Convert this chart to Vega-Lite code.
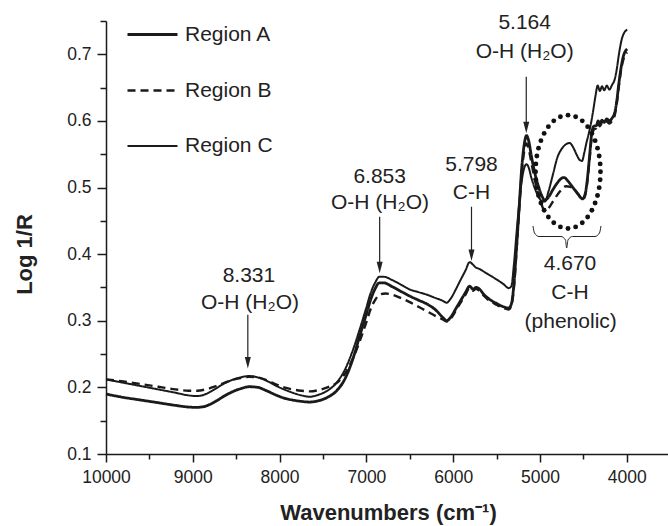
{
  "$schema": "https://vega.github.io/schema/vega-lite/v6.json",
  "width": 562,
  "height": 433,
  "autosize": {"type": "none"},
  "padding": {"left": 106, "top": 21, "right": 0, "bottom": 72},
  "background": "white",
  "config": {
    "view": {"stroke": null},
    "font": "Liberation Sans",
    "axis": {
      "grid": false,
      "domainColor": "#1a1a1a",
      "domainWidth": 1.5,
      "tickColor": "#1a1a1a",
      "tickWidth": 1.5,
      "tickSize": 8,
      "labelFont": "Liberation Sans",
      "labelFontSize": 17.5,
      "labelColor": "#222222",
      "labelPadding": 6,
      "labelFlush": false,
      "labelOverlap": false,
      "titleFont": "Liberation Sans",
      "titleFontSize": 22,
      "titleFontWeight": "bold",
      "titleColor": "#222222"
    },
    "legend": {
      "orient": "none",
      "legendX": 20,
      "legendY": -13,
      "padding": 0,
      "symbolType": "stroke",
      "symbolSize": 2500,
      "symbolStrokeColor": "#1a1a1a",
      "labelFont": "Liberation Sans",
      "labelFontSize": 21,
      "labelColor": "#222222",
      "labelOffset": 6,
      "rowPadding": 19
    }
  },
  "datasets": {
    "spectra": [
      {"region":"Region A","wn":10000,"v":0.190},{"region":"Region A","wn":9800,"v":0.185},{"region":"Region A","wn":9600,"v":0.181},{"region":"Region A","wn":9400,"v":0.177},{"region":"Region A","wn":9200,"v":0.173},{"region":"Region A","wn":9050,"v":0.1705},{"region":"Region A","wn":8950,"v":0.170},{"region":"Region A","wn":8850,"v":0.172},{"region":"Region A","wn":8750,"v":0.178},{"region":"Region A","wn":8650,"v":0.186},{"region":"Region A","wn":8550,"v":0.193},{"region":"Region A","wn":8450,"v":0.198},{"region":"Region A","wn":8350,"v":0.201},{"region":"Region A","wn":8250,"v":0.200},{"region":"Region A","wn":8150,"v":0.195},{"region":"Region A","wn":8050,"v":0.189},{"region":"Region A","wn":7950,"v":0.184},{"region":"Region A","wn":7850,"v":0.181},{"region":"Region A","wn":7750,"v":0.179},{"region":"Region A","wn":7650,"v":0.178},{"region":"Region A","wn":7550,"v":0.180},{"region":"Region A","wn":7450,"v":0.185},{"region":"Region A","wn":7350,"v":0.194},{"region":"Region A","wn":7250,"v":0.212},{"region":"Region A","wn":7150,"v":0.245},{"region":"Region A","wn":7075,"v":0.278},{"region":"Region A","wn":7000,"v":0.310},{"region":"Region A","wn":6950,"v":0.332},{"region":"Region A","wn":6900,"v":0.348},{"region":"Region A","wn":6850,"v":0.357},{"region":"Region A","wn":6800,"v":0.357},{"region":"Region A","wn":6700,"v":0.351},{"region":"Region A","wn":6600,"v":0.344},{"region":"Region A","wn":6500,"v":0.337},{"region":"Region A","wn":6400,"v":0.331},{"region":"Region A","wn":6300,"v":0.325},{"region":"Region A","wn":6200,"v":0.316},{"region":"Region A","wn":6120,"v":0.305},{"region":"Region A","wn":6075,"v":0.300},{"region":"Region A","wn":6030,"v":0.305},{"region":"Region A","wn":5970,"v":0.318},{"region":"Region A","wn":5920,"v":0.329},{"region":"Region A","wn":5860,"v":0.342},{"region":"Region A","wn":5810,"v":0.352},{"region":"Region A","wn":5770,"v":0.347},{"region":"Region A","wn":5740,"v":0.350},{"region":"Region A","wn":5700,"v":0.348},{"region":"Region A","wn":5650,"v":0.340},{"region":"Region A","wn":5600,"v":0.334},{"region":"Region A","wn":5500,"v":0.326},{"region":"Region A","wn":5420,"v":0.321},{"region":"Region A","wn":5360,"v":0.319},{"region":"Region A","wn":5330,"v":0.325},{"region":"Region A","wn":5300,"v":0.355},{"region":"Region A","wn":5270,"v":0.410},{"region":"Region A","wn":5240,"v":0.470},{"region":"Region A","wn":5210,"v":0.530},{"region":"Region A","wn":5180,"v":0.566},{"region":"Region A","wn":5155,"v":0.578},{"region":"Region A","wn":5130,"v":0.570},{"region":"Region A","wn":5100,"v":0.548},{"region":"Region A","wn":5060,"v":0.522},{"region":"Region A","wn":5020,"v":0.503},{"region":"Region A","wn":4980,"v":0.488},{"region":"Region A","wn":4945,"v":0.481},{"region":"Region A","wn":4900,"v":0.486},{"region":"Region A","wn":4850,"v":0.497},{"region":"Region A","wn":4800,"v":0.507},{"region":"Region A","wn":4750,"v":0.514},{"region":"Region A","wn":4720,"v":0.515},{"region":"Region A","wn":4680,"v":0.510},{"region":"Region A","wn":4620,"v":0.500},{"region":"Region A","wn":4560,"v":0.490},{"region":"Region A","wn":4510,"v":0.483},{"region":"Region A","wn":4480,"v":0.490},{"region":"Region A","wn":4460,"v":0.506},{"region":"Region A","wn":4430,"v":0.545},{"region":"Region A","wn":4405,"v":0.580},{"region":"Region A","wn":4380,"v":0.592},{"region":"Region A","wn":4350,"v":0.593},{"region":"Region A","wn":4330,"v":0.600},{"region":"Region A","wn":4310,"v":0.596},{"region":"Region A","wn":4285,"v":0.601},{"region":"Region A","wn":4260,"v":0.598},{"region":"Region A","wn":4230,"v":0.603},{"region":"Region A","wn":4200,"v":0.600},{"region":"Region A","wn":4170,"v":0.604},{"region":"Region A","wn":4140,"v":0.612},{"region":"Region A","wn":4115,"v":0.630},{"region":"Region A","wn":4095,"v":0.652},{"region":"Region A","wn":4075,"v":0.672},{"region":"Region A","wn":4055,"v":0.688},{"region":"Region A","wn":4035,"v":0.699},{"region":"Region A","wn":4015,"v":0.705},{"region":"Region A","wn":3995,"v":0.708},
      {"region":"Region B","wn":10000,"v":0.212},{"region":"Region B","wn":9800,"v":0.209},{"region":"Region B","wn":9600,"v":0.205},{"region":"Region B","wn":9400,"v":0.201},{"region":"Region B","wn":9200,"v":0.197},{"region":"Region B","wn":9050,"v":0.195},{"region":"Region B","wn":8950,"v":0.195},{"region":"Region B","wn":8850,"v":0.197},{"region":"Region B","wn":8750,"v":0.201},{"region":"Region B","wn":8650,"v":0.206},{"region":"Region B","wn":8550,"v":0.211},{"region":"Region B","wn":8450,"v":0.214},{"region":"Region B","wn":8350,"v":0.216},{"region":"Region B","wn":8250,"v":0.215},{"region":"Region B","wn":8150,"v":0.211},{"region":"Region B","wn":8050,"v":0.205},{"region":"Region B","wn":7950,"v":0.200},{"region":"Region B","wn":7850,"v":0.197},{"region":"Region B","wn":7750,"v":0.195},{"region":"Region B","wn":7650,"v":0.194},{"region":"Region B","wn":7550,"v":0.196},{"region":"Region B","wn":7450,"v":0.200},{"region":"Region B","wn":7350,"v":0.206},{"region":"Region B","wn":7250,"v":0.220},{"region":"Region B","wn":7150,"v":0.245},{"region":"Region B","wn":7075,"v":0.270},{"region":"Region B","wn":7000,"v":0.298},{"region":"Region B","wn":6950,"v":0.318},{"region":"Region B","wn":6900,"v":0.331},{"region":"Region B","wn":6850,"v":0.339},{"region":"Region B","wn":6780,"v":0.341},{"region":"Region B","wn":6700,"v":0.339},{"region":"Region B","wn":6600,"v":0.334},{"region":"Region B","wn":6500,"v":0.328},{"region":"Region B","wn":6400,"v":0.321},{"region":"Region B","wn":6300,"v":0.314},{"region":"Region B","wn":6200,"v":0.307},{"region":"Region B","wn":6120,"v":0.302},{"region":"Region B","wn":6075,"v":0.299},{"region":"Region B","wn":6030,"v":0.303},{"region":"Region B","wn":5970,"v":0.315},{"region":"Region B","wn":5920,"v":0.326},{"region":"Region B","wn":5860,"v":0.339},{"region":"Region B","wn":5810,"v":0.349},{"region":"Region B","wn":5770,"v":0.345},{"region":"Region B","wn":5740,"v":0.348},{"region":"Region B","wn":5700,"v":0.345},{"region":"Region B","wn":5650,"v":0.338},{"region":"Region B","wn":5600,"v":0.332},{"region":"Region B","wn":5500,"v":0.324},{"region":"Region B","wn":5420,"v":0.319},{"region":"Region B","wn":5360,"v":0.317},{"region":"Region B","wn":5330,"v":0.322},{"region":"Region B","wn":5300,"v":0.350},{"region":"Region B","wn":5270,"v":0.405},{"region":"Region B","wn":5240,"v":0.465},{"region":"Region B","wn":5210,"v":0.522},{"region":"Region B","wn":5180,"v":0.556},{"region":"Region B","wn":5155,"v":0.566},{"region":"Region B","wn":5130,"v":0.558},{"region":"Region B","wn":5100,"v":0.538},{"region":"Region B","wn":5060,"v":0.512},{"region":"Region B","wn":5020,"v":0.490},{"region":"Region B","wn":4980,"v":0.474},{"region":"Region B","wn":4950,"v":0.466},{"region":"Region B","wn":4910,"v":0.468},{"region":"Region B","wn":4860,"v":0.477},{"region":"Region B","wn":4800,"v":0.489},{"region":"Region B","wn":4750,"v":0.497},{"region":"Region B","wn":4700,"v":0.502},{"region":"Region B","wn":4650,"v":0.501},{"region":"Region B","wn":4600,"v":0.497},{"region":"Region B","wn":4560,"v":0.490},{"region":"Region B","wn":4510,"v":0.482},{"region":"Region B","wn":4480,"v":0.488},{"region":"Region B","wn":4460,"v":0.503},{"region":"Region B","wn":4430,"v":0.540},{"region":"Region B","wn":4405,"v":0.574},{"region":"Region B","wn":4380,"v":0.587},{"region":"Region B","wn":4350,"v":0.589},{"region":"Region B","wn":4330,"v":0.596},{"region":"Region B","wn":4310,"v":0.592},{"region":"Region B","wn":4285,"v":0.597},{"region":"Region B","wn":4260,"v":0.594},{"region":"Region B","wn":4230,"v":0.599},{"region":"Region B","wn":4200,"v":0.596},{"region":"Region B","wn":4170,"v":0.600},{"region":"Region B","wn":4140,"v":0.608},{"region":"Region B","wn":4115,"v":0.626},{"region":"Region B","wn":4095,"v":0.648},{"region":"Region B","wn":4075,"v":0.668},{"region":"Region B","wn":4055,"v":0.684},{"region":"Region B","wn":4035,"v":0.694},{"region":"Region B","wn":4015,"v":0.700},{"region":"Region B","wn":3995,"v":0.703},
      {"region":"Region C","wn":10000,"v":0.212},{"region":"Region C","wn":9800,"v":0.207},{"region":"Region C","wn":9600,"v":0.202},{"region":"Region C","wn":9400,"v":0.197},{"region":"Region C","wn":9200,"v":0.192},{"region":"Region C","wn":9050,"v":0.188},{"region":"Region C","wn":8950,"v":0.187},{"region":"Region C","wn":8850,"v":0.190},{"region":"Region C","wn":8750,"v":0.197},{"region":"Region C","wn":8650,"v":0.205},{"region":"Region C","wn":8550,"v":0.211},{"region":"Region C","wn":8450,"v":0.215},{"region":"Region C","wn":8350,"v":0.217},{"region":"Region C","wn":8250,"v":0.215},{"region":"Region C","wn":8150,"v":0.210},{"region":"Region C","wn":8050,"v":0.203},{"region":"Region C","wn":7950,"v":0.197},{"region":"Region C","wn":7850,"v":0.192},{"region":"Region C","wn":7750,"v":0.188},{"region":"Region C","wn":7650,"v":0.186},{"region":"Region C","wn":7550,"v":0.189},{"region":"Region C","wn":7450,"v":0.195},{"region":"Region C","wn":7350,"v":0.206},{"region":"Region C","wn":7250,"v":0.226},{"region":"Region C","wn":7150,"v":0.258},{"region":"Region C","wn":7075,"v":0.288},{"region":"Region C","wn":7000,"v":0.320},{"region":"Region C","wn":6950,"v":0.342},{"region":"Region C","wn":6900,"v":0.357},{"region":"Region C","wn":6850,"v":0.366},{"region":"Region C","wn":6800,"v":0.366},{"region":"Region C","wn":6700,"v":0.361},{"region":"Region C","wn":6600,"v":0.354},{"region":"Region C","wn":6500,"v":0.347},{"region":"Region C","wn":6400,"v":0.343},{"region":"Region C","wn":6300,"v":0.339},{"region":"Region C","wn":6200,"v":0.334},{"region":"Region C","wn":6120,"v":0.330},{"region":"Region C","wn":6075,"v":0.327},{"region":"Region C","wn":6030,"v":0.333},{"region":"Region C","wn":5970,"v":0.347},{"region":"Region C","wn":5920,"v":0.360},{"region":"Region C","wn":5860,"v":0.375},{"region":"Region C","wn":5810,"v":0.388},{"region":"Region C","wn":5770,"v":0.384},{"region":"Region C","wn":5740,"v":0.380},{"region":"Region C","wn":5700,"v":0.378},{"region":"Region C","wn":5650,"v":0.374},{"region":"Region C","wn":5600,"v":0.370},{"region":"Region C","wn":5500,"v":0.362},{"region":"Region C","wn":5420,"v":0.355},{"region":"Region C","wn":5360,"v":0.349},{"region":"Region C","wn":5330,"v":0.352},{"region":"Region C","wn":5300,"v":0.385},{"region":"Region C","wn":5270,"v":0.432},{"region":"Region C","wn":5240,"v":0.475},{"region":"Region C","wn":5210,"v":0.510},{"region":"Region C","wn":5180,"v":0.530},{"region":"Region C","wn":5155,"v":0.535},{"region":"Region C","wn":5130,"v":0.530},{"region":"Region C","wn":5100,"v":0.515},{"region":"Region C","wn":5060,"v":0.499},{"region":"Region C","wn":5020,"v":0.487},{"region":"Region C","wn":4980,"v":0.480},{"region":"Region C","wn":4945,"v":0.479},{"region":"Region C","wn":4900,"v":0.495},{"region":"Region C","wn":4850,"v":0.520},{"region":"Region C","wn":4800,"v":0.545},{"region":"Region C","wn":4750,"v":0.558},{"region":"Region C","wn":4700,"v":0.565},{"region":"Region C","wn":4660,"v":0.567},{"region":"Region C","wn":4620,"v":0.561},{"region":"Region C","wn":4580,"v":0.550},{"region":"Region C","wn":4540,"v":0.541},{"region":"Region C","wn":4515,"v":0.540},{"region":"Region C","wn":4490,"v":0.552},{"region":"Region C","wn":4465,"v":0.567},{"region":"Region C","wn":4440,"v":0.580},{"region":"Region C","wn":4410,"v":0.598},{"region":"Region C","wn":4385,"v":0.617},{"region":"Region C","wn":4360,"v":0.638},{"region":"Region C","wn":4335,"v":0.653},{"region":"Region C","wn":4310,"v":0.645},{"region":"Region C","wn":4285,"v":0.652},{"region":"Region C","wn":4260,"v":0.646},{"region":"Region C","wn":4230,"v":0.653},{"region":"Region C","wn":4200,"v":0.647},{"region":"Region C","wn":4170,"v":0.654},{"region":"Region C","wn":4140,"v":0.662},{"region":"Region C","wn":4115,"v":0.678},{"region":"Region C","wn":4095,"v":0.696},{"region":"Region C","wn":4075,"v":0.712},{"region":"Region C","wn":4055,"v":0.724},{"region":"Region C","wn":4035,"v":0.731},{"region":"Region C","wn":4015,"v":0.735},{"region":"Region C","wn":3995,"v":0.737}
    ],
    "labels": [
      {"x":8353,"y":0.3677,"t":"8.331"},{"x":8341,"y":0.3267,"t":"O-H (H₂O)"},
      {"x":6847,"y":0.5163,"t":"6.853"},{"x":6843,"y":0.4768,"t":"O-H (H₂O)"},
      {"x":5789,"y":0.5338,"t":"5.798"},{"x":5789,"y":0.4922,"t":"C-H"},
      {"x":5176,"y":0.7477,"t":"5.164"},{"x":5176,"y":0.7035,"t":"O-H (H₂O)"},
      {"x":4654,"y":0.3852,"t":"4.670"},{"x":4654,"y":0.3417,"t":"C-H"},{"x":4646,"y":0.2981,"t":"(phenolic)"}
    ],
    "arrows": [
      {"x":8366,"top":0.309,"tip":0.2283},
      {"x":6847,"top":0.4562,"tip":0.3713},
      {"x":5789,"top":0.4712,"tip":0.3897},
      {"x":5158,"top":0.6664,"tip":0.5814}
    ],
    "arrowShafts": [
      {"x":8366,"top":0.309,"end":0.240},
      {"x":6847,"top":0.4562,"end":0.383},
      {"x":5789,"top":0.4712,"end":0.401},
      {"x":5158,"top":0.6664,"end":0.593}
    ],
    "brace": [
      {"o":1,"x":5080.6,"y":0.4423},{"o":2,"x":5063.4,"y":0.4318},{"o":3,"x":5011.5,"y":0.4265},{"o":4,"x":4758.1,"y":0.4265},{"o":5,"x":4706.3,"y":0.4213},{"o":6,"x":4692.4,"y":0.4093},{"o":7,"x":4677.4,"y":0.4213},{"o":8,"x":4625.6,"y":0.4265},{"o":9,"x":4366.4,"y":0.4265},{"o":10,"x":4314.5,"y":0.4318},{"o":11,"x":4297.2,"y":0.4423}
    ],
    "ring": [
      {"x":5051,"y":0.5236},{"x":5047.3,"y":0.5355},{"x":5036.1,"y":0.5474},{"x":5017,"y":0.5591},{"x":4989.3,"y":0.5704},{"x":4951.9,"y":0.5813},{"x":4903.2,"y":0.5914},{"x":4841.2,"y":0.6001},{"x":4764.8,"y":0.6063},{"x":4677,"y":0.6087},
      {"x":4589.2,"y":0.6063},{"x":4512.8,"y":0.6001},{"x":4450.8,"y":0.5914},{"x":4402.1,"y":0.5813},{"x":4364.7,"y":0.5704},{"x":4337,"y":0.5591},{"x":4317.9,"y":0.5474},{"x":4306.7,"y":0.5355},{"x":4303,"y":0.5236},
      {"x":4306.7,"y":0.5117},{"x":4317.9,"y":0.4998},{"x":4337,"y":0.4881},{"x":4364.7,"y":0.4768},{"x":4402.1,"y":0.4659},{"x":4450.8,"y":0.4558},{"x":4512.8,"y":0.4471},{"x":4589.2,"y":0.4409},{"x":4677,"y":0.4385},
      {"x":4764.8,"y":0.4409},{"x":4841.2,"y":0.4471},{"x":4903.2,"y":0.4558},{"x":4951.9,"y":0.4659},{"x":4989.3,"y":0.4768},{"x":5017,"y":0.4881},{"x":5036.1,"y":0.4998},{"x":5047.3,"y":0.5117}
    ]
  },
  "layer": [
    {
      "data": {"name": "spectra"},
      "mark": {"type": "line", "interpolate": "monotone", "color": "#1a1a1a"},
      "encoding": {
        "x": {
          "field": "wn", "type": "quantitative",
          "scale": {"domain": [3525, 10000], "reverse": true, "nice": false, "zero": false},
          "axis": {
            "orient": "bottom",
            "values": [10000, 9000, 8000, 7000, 6000, 5000, 4000],
            "format": "d",
            "title": "Wavenumbers (cm⁻¹)",
            "titleX": 282, "titleY": 65,
            "titleBaseline": "alphabetic", "titleAlign": "center"
          }
        },
        "y": {
          "field": "v", "type": "quantitative",
          "scale": {"domain": [0.1, 0.75], "nice": false, "zero": false},
          "axis": {
            "orient": "left",
            "values": [0.1, 0.2, 0.3, 0.4, 0.5, 0.6, 0.7],
            "format": ".1f",
            "tickSize": 9,
            "title": "Log 1/R",
            "titleX": -75, "titleY": 233,
            "titleAngle": 270,
            "titleBaseline": "alphabetic", "titleAlign": "center"
          }
        },
        "strokeDash": {
          "field": "region", "type": "nominal",
          "scale": {"domain": ["Region A", "Region B", "Region C"], "range": [[1, 0], [8, 5], [1, 0]]},
          "legend": {"title": null}
        },
        "strokeWidth": {
          "field": "region", "type": "nominal",
          "scale": {"domain": ["Region A", "Region B", "Region C"], "range": [2.8, 2, 1.1]},
          "legend": {"title": null}
        }
      }
    },
    {
      "data": {"name": "arrowShafts"},
      "mark": {"type": "rule", "color": "#222222", "strokeWidth": 1.2},
      "encoding": {
        "x": {"field": "x", "type": "quantitative", "axis": null},
        "y": {"field": "top", "type": "quantitative", "axis": null},
        "y2": {"field": "end"}
      }
    },
    {
      "data": {"name": "arrows"},
      "mark": {"type": "point", "shape": "M-0.75,-2.9L0.75,-2.9L0,0Z", "size": 64, "filled": true, "color": "#222222", "opacity": 1, "strokeWidth": 0},
      "encoding": {
        "x": {"field": "x", "type": "quantitative", "axis": null},
        "y": {"field": "tip", "type": "quantitative", "axis": null}
      }
    },
    {
      "data": {"name": "labels"},
      "mark": {"type": "text", "font": "Liberation Sans", "fontSize": 21, "color": "#222222", "align": "center", "baseline": "middle"},
      "encoding": {
        "x": {"field": "x", "type": "quantitative", "axis": null},
        "y": {"field": "y", "type": "quantitative", "axis": null},
        "text": {"field": "t"}
      }
    },
    {
      "data": {"name": "brace"},
      "mark": {"type": "line", "interpolate": "monotone", "color": "#222222", "strokeWidth": 1},
      "encoding": {
        "x": {"field": "x", "type": "quantitative", "axis": null},
        "y": {"field": "y", "type": "quantitative", "axis": null},
        "order": {"field": "o"}
      }
    },
    {
      "data": {"name": "ring"},
      "mark": {"type": "circle", "size": 24, "color": "#111111", "opacity": 1},
      "encoding": {
        "x": {
          "field": "x", "type": "quantitative",
          "axis": {"orient": "bottom", "values": [9500, 8500, 7500, 6500, 5500, 4500], "labels": false, "domain": false, "tickSize": 5, "title": null}
        },
        "y": {
          "field": "y", "type": "quantitative",
          "axis": {"orient": "left", "values": [0.15, 0.25, 0.35, 0.45, 0.55, 0.65, 0.75], "labels": false, "domain": false, "tickSize": 6, "title": null}
        }
      }
    }
  ],
  "resolve": {"axis": {"x": "independent", "y": "independent"}}
}
